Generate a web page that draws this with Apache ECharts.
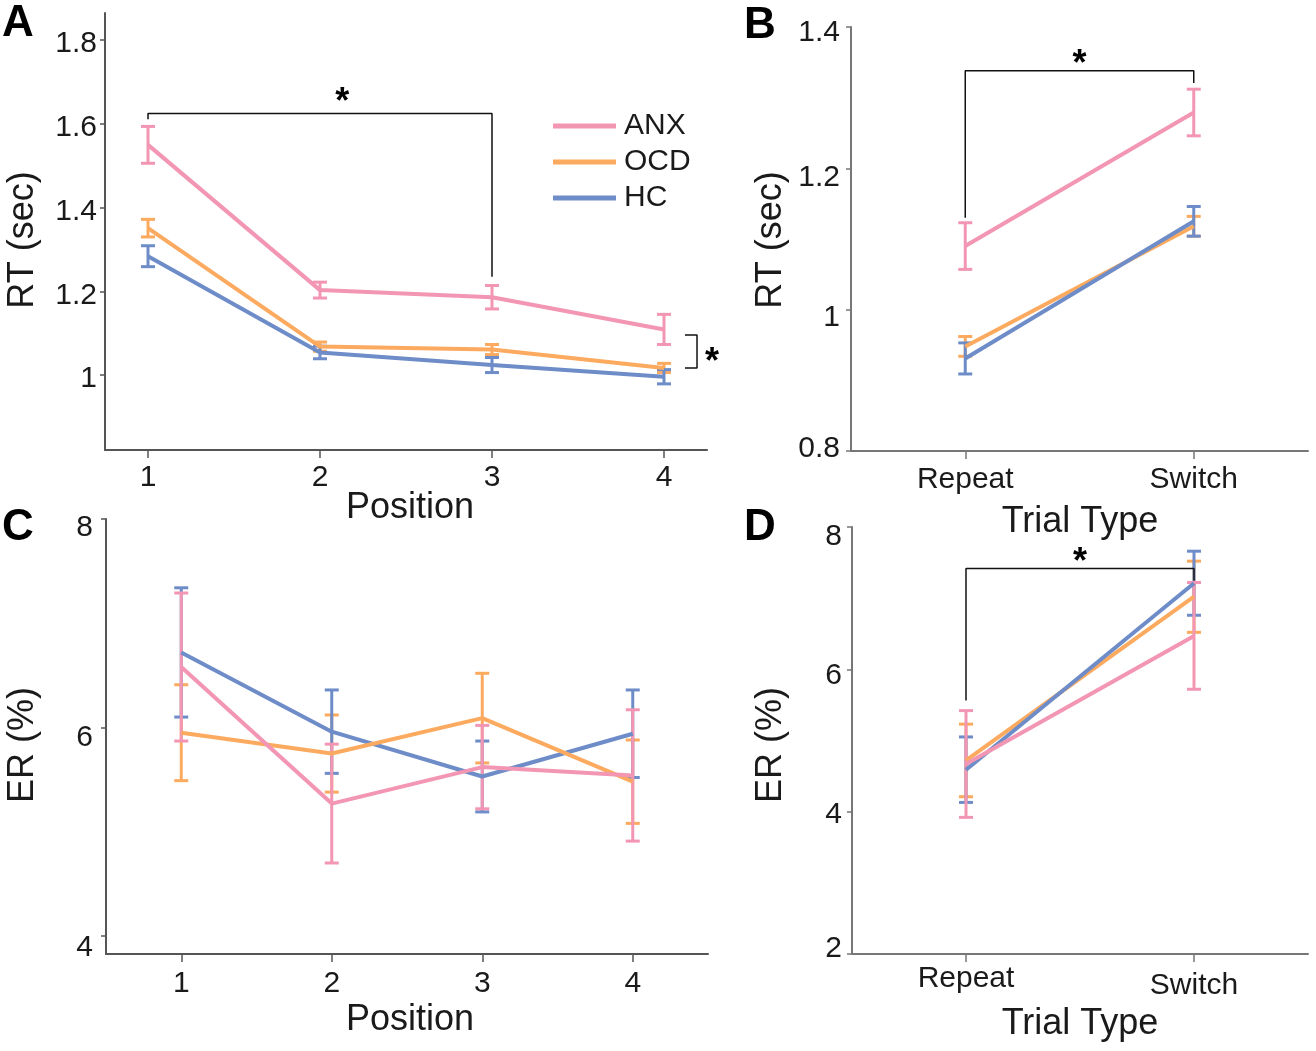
<!DOCTYPE html>
<html>
<head>
<meta charset="utf-8">
<script src="https://cdn.jsdelivr.net/npm/echarts@6/dist/echarts.min.js"></script>
<style>
html,body{margin:0;padding:0;background:#fff;}
#c{width:1316px;height:1051px;}
</style>
</head>
<body>
<div id="c"></div>
<script>
// ---------- data ----------
const groups = ['ANX', 'OCD', 'HC'];
const positions = [1, 2, 3, 4];
const trialTypes = ['Repeat', 'Switch'];
const trialX = [1, 2];

// Panel A: RT by position (sec)
const rtPosANX = [1.550, 1.203, 1.186, 1.109];
const rtPosANXErr = [0.044, 0.019, 0.028, 0.036];
const rtPosOCD = [1.351, 1.068, 1.061, 1.017];
const rtPosOCDErr = [0.021, 0.011, 0.012, 0.011];
const rtPosHC = [1.284, 1.054, 1.024, 0.996];
const rtPosHCErr = [0.025, 0.015, 0.018, 0.017];

// Panel B: RT by trial type (sec)
const rtTrialANX = [1.090, 1.279];
const rtTrialANXErr = [0.033, 0.033];
const rtTrialOCD = [0.948, 1.118];
const rtTrialOCDErr = [0.014, 0.014];
const rtTrialHC = [0.931, 1.125];
const rtTrialHCErr = [0.022, 0.021];

// Panel C: ER by position (%)
const erPosANX = [6.58, 5.27, 5.62, 5.54];
const erPosANXErr = [0.71, 0.57, 0.40, 0.63];
const erPosOCD = [5.95, 5.75, 6.09, 5.48];
const erPosOCDErr = [0.46, 0.37, 0.43, 0.40];
const erPosHC = [6.72, 5.96, 5.53, 5.94];
const erPosHCErr = [0.62, 0.40, 0.34, 0.42];

// Panel D: ER by trial type (%)
const erTrialANX = [4.67, 6.47];
const erTrialANXErr = [0.75, 0.75];
const erTrialOCD = [4.72, 7.02];
const erTrialOCDErr = [0.51, 0.50];
const erTrialHC = [4.59, 7.21];
const erTrialHCErr = [0.46, 0.45];

// tick labels
const rtPosTicks = [1, 1.2, 1.4, 1.6, 1.8];
const rtTrialTicks = [0.8, 1, 1.2, 1.4];
const erPosTicks = [4, 6, 8];
const erTrialTicks = [2, 4, 6, 8];

// significance annotations (data coordinates)
const bracketA1 = [[1, 1.611], [1, 1.625], [3, 1.625], [3, 1.235]];
const bracketA2 = [[4.122, 1.0956], [4.192, 1.0956], [4.192, 1.0167], [4.122, 1.0167]];
const starA = [[2.13, 1.669], [4.279, 1.048]];
const bracketB = [[1, 1.130], [1, 1.338], [2, 1.338], [2, 1.3206]];
const starB = [[1.5, 1.357]];
const bracketD = [[1, 5.563], [1, 7.418], [2, 7.418], [2, 7.25]];
const starD = [[1.5, 7.60]];

// ---------- styling ----------
const colors = { ANX: '#F296B3', OCD: '#FCAA5F', HC: '#6D8CC8' };
const FONT = '"Liberation Sans", Arial, sans-serif';
const TXT = '#1a1a1a';

const chart = echarts.init(document.getElementById('c'), null, { renderer: 'canvas' });

function pairs(xs, ys) { return xs.map((x, i) => [x, ys[i]]); }
function errData(xs, ys, es) { return xs.map((x, i) => [x, ys[i] - es[i], ys[i] + es[i]]); }

function errSeries(idx, xs, ys, es, color) {
  return {
    type: 'custom', xAxisIndex: idx, yAxisIndex: idx, silent: true, z: 3,
    data: errData(xs, ys, es),
    renderItem: function (params, api) {
      const x = api.value(0), lo = api.value(1), hi = api.value(2);
      const pt = api.coord([x, hi]), pb = api.coord([x, lo]);
      const hw = 7;
      const st = { stroke: color, lineWidth: 3 };
      return {
        type: 'group', children: [
          { type: 'line', shape: { x1: pt[0], y1: pt[1], x2: pb[0], y2: pb[1] }, style: st },
          { type: 'line', shape: { x1: pt[0] - hw, y1: pt[1], x2: pt[0] + hw, y2: pt[1] }, style: st },
          { type: 'line', shape: { x1: pb[0] - hw, y1: pb[1], x2: pb[0] + hw, y2: pb[1] }, style: st }
        ]
      };
    }
  };
}
function lineSeries(idx, name, xs, ys) {
  return {
    type: 'line', name: name, xAxisIndex: idx, yAxisIndex: idx,
    data: pairs(xs, ys), symbol: 'none', showSymbol: false, silent: true,
    lineStyle: { width: 4, color: colors[name] }, itemStyle: { color: colors[name] }, z: 4
  };
}
function bracketSeries(idx, pts) {
  return {
    type: 'line', xAxisIndex: idx, yAxisIndex: idx, data: pts, symbol: 'none', clip: false,
    silent: true, lineStyle: { width: 1.5, color: '#111' }, z: 5
  };
}
function starSeries(idx, pts) {
  return {
    type: 'scatter', xAxisIndex: idx, yAxisIndex: idx, data: pts, symbolSize: 2, clip: false,
    silent: true, itemStyle: { color: 'rgba(0,0,0,0)' }, z: 6,
    label: { show: true, position: 'inside', formatter: '*', fontSize: 36, fontWeight: 'bold', color: '#000', fontFamily: FONT, offset: [0, 8], opacity: 1 }
  };
}

function xAxis(idx, min, max, ticks, fmt, lineColor, margin, rich) {
  return {
    type: 'value', gridIndex: idx, min: min, max: max,
    splitLine: { show: false },
    axisLine: { show: true, onZero: false, lineStyle: { color: lineColor, width: 2 } },
    axisTick: { show: true, inside: false, length: 8, customValues: ticks, lineStyle: { color: lineColor, width: 1.5 } },
    axisLabel: { customValues: ticks, formatter: fmt, margin: margin, fontSize: 30, color: TXT, fontFamily: FONT, rich: rich }
  };
}
// shifts: per-tick vertical nudge of the label text (px, + = down)
function yAxis(idx, min, max, ticks, labels, shifts, lineColor, margin) {
  const rich = {};
  ticks.forEach((t, i) => {
    const s = shifts[i];
    rich['k' + i] = {
      fontSize: 30, color: TXT, fontFamily: FONT,
      padding: s >= 0 ? [2 * s, 0, 0, 0] : [0, 0, -2 * s, 0]
    };
  });
  return {
    type: 'value', gridIndex: idx, min: min, max: max,
    splitLine: { show: false },
    axisLine: { show: true, onZero: false, lineStyle: { color: lineColor, width: 2 } },
    axisTick: { show: true, inside: false, length: 5, customValues: ticks, lineStyle: { color: lineColor, width: 1.5 } },
    axisLabel: {
      customValues: ticks, margin: margin, fontSize: 30, color: TXT, fontFamily: FONT,
      formatter: v => {
        let i = 0, best = Infinity;
        ticks.forEach((t, j) => { const d = Math.abs(t - v); if (d < best) { best = d; i = j; } });
        return '{k' + i + '|' + labels[i] + '}';
      },
      rich: rich
    }
  };
}

const trialFmt = v => trialTypes[Math.round(v) - 1] || '';
const trialFmtD = v => (Math.round(v) === 1 ? '{r|' + trialTypes[0] + '}' : '{s|' + trialTypes[1] + '}');
const posFmt = v => String(Math.round(v));

function txt(x, y, text, size, rot, bold) {
  return {
    type: 'text', x: x, y: y, rotation: rot || 0, silent: true,
    style: { text: text, fontSize: size, fontFamily: FONT, fontWeight: bold ? 'bold' : 'normal', fill: bold ? '#000' : TXT, align: 'center', verticalAlign: 'middle' }
  };
}

const series = [];
// Panel A
series.push(errSeries(0, positions, rtPosOCD, rtPosOCDErr, colors.OCD));
series.push(errSeries(0, positions, rtPosHC, rtPosHCErr, colors.HC));
series.push(errSeries(0, positions, rtPosANX, rtPosANXErr, colors.ANX));
series.push(lineSeries(0, 'ANX', positions, rtPosANX));
series.push(lineSeries(0, 'OCD', positions, rtPosOCD));
series.push(lineSeries(0, 'HC', positions, rtPosHC));
series.push(bracketSeries(0, bracketA1));
series.push(bracketSeries(0, bracketA2));
series.push(starSeries(0, starA));
// Panel B
series.push(errSeries(1, trialX, rtTrialOCD, rtTrialOCDErr, colors.OCD));
series.push(errSeries(1, trialX, rtTrialHC, rtTrialHCErr, colors.HC));
series.push(errSeries(1, trialX, rtTrialANX, rtTrialANXErr, colors.ANX));
series.push(lineSeries(1, 'OCD', trialX, rtTrialOCD));
series.push(lineSeries(1, 'HC', trialX, rtTrialHC));
series.push(lineSeries(1, 'ANX', trialX, rtTrialANX));
series.push(bracketSeries(1, bracketB));
series.push(starSeries(1, starB));
// Panel C
series.push(errSeries(2, positions, erPosOCD, erPosOCDErr, colors.OCD));
series.push(errSeries(2, positions, erPosHC, erPosHCErr, colors.HC));
series.push(errSeries(2, positions, erPosANX, erPosANXErr, colors.ANX));
series.push(lineSeries(2, 'HC', positions, erPosHC));
series.push(lineSeries(2, 'OCD', positions, erPosOCD));
series.push(lineSeries(2, 'ANX', positions, erPosANX));
// Panel D
series.push(errSeries(3, trialX, erTrialOCD, erTrialOCDErr, colors.OCD));
series.push(errSeries(3, trialX, erTrialHC, erTrialHCErr, colors.HC));
series.push(errSeries(3, trialX, erTrialANX, erTrialANXErr, colors.ANX));
series.push(lineSeries(3, 'OCD', trialX, erTrialOCD));
series.push(lineSeries(3, 'HC', trialX, erTrialHC));
series.push(lineSeries(3, 'ANX', trialX, erTrialANX));
series.push(bracketSeries(3, bracketD));
series.push(starSeries(3, starD));

const option = {
  animation: false,
  backgroundColor: '#fff',
  textStyle: { fontFamily: FONT },
  grid: [
    { left: 105, top: 13, width: 602, height: 437, containLabel: false, outerBoundsMode: 'none' },
    { left: 851, top: 27, width: 457, height: 424, containLabel: false, outerBoundsMode: 'none' },
    { left: 106, top: 519, width: 602, height: 435, containLabel: false, outerBoundsMode: 'none' },
    { left: 852, top: 527, width: 456, height: 427, containLabel: false, outerBoundsMode: 'none' }
  ],
  xAxis: [
    xAxis(0, 0.75, 4.25, positions, posFmt, '#555', 13),
    xAxis(1, 0.5, 2.5, trialX, trialFmt, '#777', 14),
    xAxis(2, 0.5, 4.5, positions, posFmt, '#555', 15),
    xAxis(3, 0.5, 2.5, trialX, trialFmtD, '#777', 10, {
      r: { fontSize: 30, color: TXT, fontFamily: FONT, padding: [0, 0, 0, 0] },
      s: { fontSize: 30, color: TXT, fontFamily: FONT, padding: [7, 0, 0, 0] }
    })
  ],
  yAxis: [
    yAxis(0, 0.821, 1.865, rtPosTicks, ['1', '1.2', '1.4', '1.6', '1.8'], [4, 4, 4, 4, 4], '#555', 8),
    yAxis(1, 0.8, 1.4, rtTrialTicks, ['0.8', '1', '1.2', '1.4'], [-2, 8, 9, 6], '#777', 11),
    yAxis(2, 3.827, 8.0, erPosTicks, ['4', '6', '8'], [12, 10, 9], '#555', 13),
    yAxis(3, 2, 8, erTrialTicks, ['2', '4', '6', '8'], [-5, 3, 6, 10], '#777', 10)
  ],
  legend: {
    show: true, orient: 'vertical', left: 548, top: 106,
    data: groups, icon: 'rect', itemWidth: 63, itemHeight: 5, itemGap: 6,
    selectedMode: false,
    textStyle: { fontSize: 30, color: TXT, fontFamily: FONT, lineHeight: 30, padding: [0, 0, 0, 3] }
  },
  graphic: [
    txt(18, 24, 'A', 44, 0, true),
    txt(760, 26, 'B', 44, 0, true),
    txt(18, 528, 'C', 44, 0, true),
    txt(760, 528, 'D', 44, 0, true),
    txt(410, 508, 'Position', 36),
    txt(1080, 522, 'Trial Type', 36),
    txt(410, 1020, 'Position', 36),
    txt(1080, 1024, 'Trial Type', 36),
    txt(23, 240, 'RT (sec)', 36, Math.PI / 2),
    txt(771, 240, 'RT (sec)', 36, Math.PI / 2),
    txt(23, 745, 'ER (%)', 36, Math.PI / 2),
    txt(771, 745, 'ER (%)', 36, Math.PI / 2)
  ],
  series: series
};
chart.setOption(option);
</script>
</body>
</html>
